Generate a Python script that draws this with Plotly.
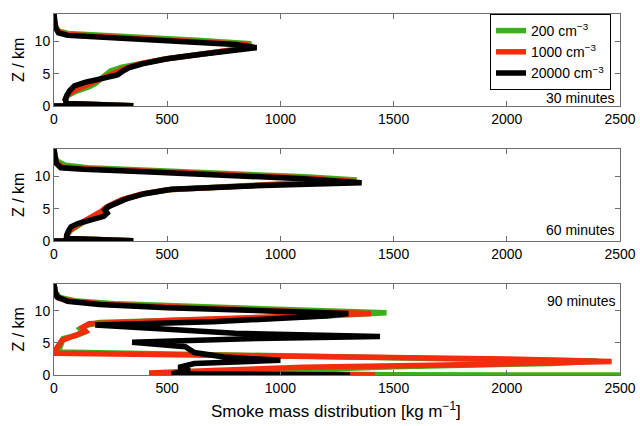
import plotly.graph_objects as go

# ---------------- data ----------------
# 30 minutes
z30_g = [0, 0.05, 0.4, 1.0, 1.6, 2.3, 2.9, 3.4, 4.0, 4.8, 5.4, 6.0, 6.5, 7.2, 7.9, 8.6, 9.2, 9.6, 10.1, 10.5, 10.9, 11.2, 11.6, 12.2, 13.0, 14.2]
m30_g = [0, 350, 55, 50, 60, 100, 150, 180, 200, 230, 250, 300, 370, 480, 630, 780, 860, 870, 650, 400, 180, 60, 20, 8, 3, 0]
z30_r = [0, 0.05, 0.4, 1.0, 1.6, 2.3, 3.0, 3.6, 4.2, 4.9, 5.4, 5.9, 6.5, 7.25, 7.95, 8.6, 9.1, 9.5, 10.0, 10.4, 10.75, 11.05, 11.4, 12.1, 13.0, 14.2]
m30_r = [0, 350, 55, 50, 58, 85, 130, 170, 210, 260, 290, 320, 380, 490, 640, 790, 875, 850, 620, 390, 180, 60, 20, 8, 3, 0]
z30_k = [0, 0.05, 0.4, 1.0, 1.6, 2.4, 3.1, 3.7, 4.3, 4.8, 5.3, 5.9, 6.5, 7.3, 8.0, 8.6, 9.0, 9.5, 9.9, 10.3, 10.6, 10.9, 11.3, 12.0, 13.0, 14.2]
m30_k = [0, 350, 55, 50, 56, 70, 90, 140, 220, 280, 300, 330, 390, 500, 650, 800, 895, 800, 600, 380, 180, 60, 20, 8, 3, 0]

# 60 minutes
z60_g = [0, 0.05, 0.4, 0.9, 1.6, 2.2, 2.8, 3.4, 4.0, 4.6, 5.2, 5.8, 6.4, 7.2, 7.9, 8.55, 9.4, 9.9, 10.5, 10.9, 11.3, 11.7, 12.3, 13.0, 14.2]
m60_g = [0, 350, 55, 58, 72, 95, 125, 160, 195, 215, 235, 265, 305, 385, 505, 860, 1337, 1110, 740, 410, 150, 50, 15, 3, 0]
z60_r = [0, 0.05, 0.4, 0.9, 1.6, 2.2, 2.8, 3.4, 4.0, 4.6, 5.2, 5.8, 6.4, 7.2, 7.9, 8.5, 9.2, 9.75, 10.4, 10.8, 11.15, 11.4, 12.0, 13.0, 14.2]
m60_r = [0, 350, 55, 58, 70, 90, 120, 150, 185, 210, 230, 260, 300, 380, 500, 850, 1330, 1100, 730, 400, 140, 40, 12, 3, 0]
z60_k = [0, 0.05, 0.4, 0.9, 1.6, 2.2, 2.7, 3.2, 3.8, 4.3, 4.8, 5.3, 5.9, 6.5, 7.3, 8.0, 8.5, 9.0, 9.6, 10.3, 10.7, 11.07, 11.3, 12.0, 13.0, 14.2]
m60_k = [0, 350, 55, 56, 65, 75, 105, 160, 220, 235, 225, 240, 275, 320, 400, 520, 866, 1359, 1100, 719, 400, 129, 30, 10, 3, 0]

# 90 minutes
z90_g = [0, 0.03, 0.3, 0.8, 1.3, 1.8, 2.2, 2.5, 2.9, 3.3, 3.6, 4.3, 5.0, 5.7, 6.2, 6.6, 7.2, 7.8, 8.2, 8.7, 9.2, 9.7, 10.1, 10.6, 11.1, 11.6, 12.1, 13.0, 14.2]
m90_g = [2800, 1500, 700, 1072, 1500, 2200, 2400, 1800, 1000, 300, 20, 26, 35, 41, 100, 130, 115, 150, 200, 700, 1200, 1469, 1100, 650, 280, 90, 25, 5, 0]
z90_r = [0, 0.3, 0.7, 1.2, 1.6, 2.1, 2.5, 2.9, 3.2, 3.4, 4.0, 4.7, 5.4, 6.0, 6.4, 6.8, 7.4, 8.0, 8.5, 9.0, 9.6, 10.0, 10.5, 11.0, 11.5, 12.0, 13.0, 14.2]
m90_r = [1418, 420, 700, 1100, 1800, 2463, 2000, 1200, 400, 10, 8, 20, 35, 80, 120, 140, 125, 155, 500, 1000, 1400, 1000, 600, 250, 80, 20, 5, 0]
z90_k = [0, 0.2, 0.7, 1.2, 1.8, 2.3, 2.8, 3.5, 4.4, 5.1, 5.7, 6.0, 6.5, 7.2, 7.8, 8.3, 8.8, 9.2, 9.6, 10.0, 10.5, 11.0, 11.5, 12.2, 13.0, 14.2]
m90_k = [1307, 520, 600, 550, 620, 1000, 750, 620, 580, 345, 900, 1440, 800, 500, 182, 700, 1000, 1200, 1300, 900, 500, 200, 60, 13, 5, 0]

series_names = ["200 cm<sup>\u22123</sup>", "1000 cm<sup>\u22123</sup>", "20000 cm<sup>\u22123</sup>"]
series_colors = ["#3cb01c", "#f22c0c", "#000000"]
panel_labels = ["30 minutes", "60 minutes", "90 minutes"]
x_ticks = [0, 500, 1000, 1500, 2000, 2500]
y_ticks = [0, 5, 10]

panels = [
    [(m30_g, z30_g), (m30_r, z30_r), (m30_k, z30_k)],
    [(m60_g, z60_g), (m60_r, z60_r), (m60_k, z60_k)],
    [(m90_g, z90_g), (m90_r, z90_r), (m90_k, z90_k)],
]

# ---------------- layout geometry (pixels) ----------------
W, H = 640, 426
x_left, x_right = 54, 620
panel_px = [(14, 106), (149, 241), (284, 375)]  # (top, bottom)

FONT = "Liberation Sans, Arial, Helvetica, sans-serif"
FRAME = "#6e6e6e"

fig = go.Figure()
layout = dict(
    width=W, height=H,
    margin=dict(l=0, r=0, t=0, b=0),
    paper_bgcolor="white", plot_bgcolor="white",
    font=dict(family=FONT, size=14, color="black"),
    showlegend=True,
    legend=dict(
        x=490 / W, y=1 - 14 / H, xanchor="left", yanchor="top",
        bordercolor="black", borderwidth=1, bgcolor="white",
        font=dict(size=14, family=FONT), itemwidth=30,
        tracegroupgap=0,
    ),
)

annotations = []
for i, (panel, (top, bot)) in enumerate(zip(panels, panel_px)):
    xa = "x" if i == 0 else f"x{i+1}"
    ya = "y" if i == 0 else f"y{i+1}"
    for j, (mx, zz) in enumerate(panel):
        fig.add_trace(go.Scatter(
            x=mx, y=zz, mode="lines", xaxis=xa, yaxis=ya,
            name=series_names[j], showlegend=(i == 0),
            line=dict(color=series_colors[j], width=5.5),
        ))
    axkey = "xaxis" if i == 0 else f"xaxis{i+1}"
    aykey = "yaxis" if i == 0 else f"yaxis{i+1}"
    layout[axkey] = dict(
        domain=[x_left / W, x_right / W], range=[0, 2500], anchor=ya,
        tickvals=x_ticks, ticks="inside", ticklen=5, tickcolor=FRAME,
        showline=True, linecolor=FRAME, linewidth=1, mirror="ticks",
        showgrid=False, zeroline=False, automargin=False,
        tickfont=dict(size=14, color="black"),
    )
    layout[aykey] = dict(
        domain=[1 - bot / H, 1 - top / H], range=[0, 14.2], anchor=xa,
        tickvals=y_ticks, ticks="inside", ticklen=5, tickcolor=FRAME,
        showline=True, linecolor=FRAME, linewidth=1, mirror="ticks",
        showgrid=False, zeroline=False, automargin=False,
        tickfont=dict(size=14, color="black"),
    )
    annotations.append(dict(
        text="Z / km", textangle=-90, xref="paper", yref="paper",
        x=18 / W, y=1 - (top + bot) / 2 / H, xanchor="center", yanchor="middle",
        showarrow=False, font=dict(size=16),
    ))

annotations.append(dict(text=panel_labels[0], xref="paper", yref="paper",
                        x=616 / W, y=1 - 98 / H, xanchor="right", yanchor="middle",
                        showarrow=False, font=dict(size=14)))
annotations.append(dict(text=panel_labels[1], xref="paper", yref="paper",
                        x=616 / W, y=1 - 230 / H, xanchor="right", yanchor="middle",
                        showarrow=False, font=dict(size=14)))
annotations.append(dict(text=panel_labels[2], xref="paper", yref="paper",
                        x=617 / W, y=1 - 301 / H, xanchor="right", yanchor="middle",
                        showarrow=False, font=dict(size=14)))
annotations.append(dict(text="Smoke mass distribution [kg m<sup>\u22121</sup>]",
                        xref="paper", yref="paper", x=336 / W, y=1 - 410 / H,
                        xanchor="center", yanchor="middle", showarrow=False,
                        font=dict(size=17)))
layout["annotations"] = annotations

fig.update_layout(**layout)
fig.write_html("out.html")
